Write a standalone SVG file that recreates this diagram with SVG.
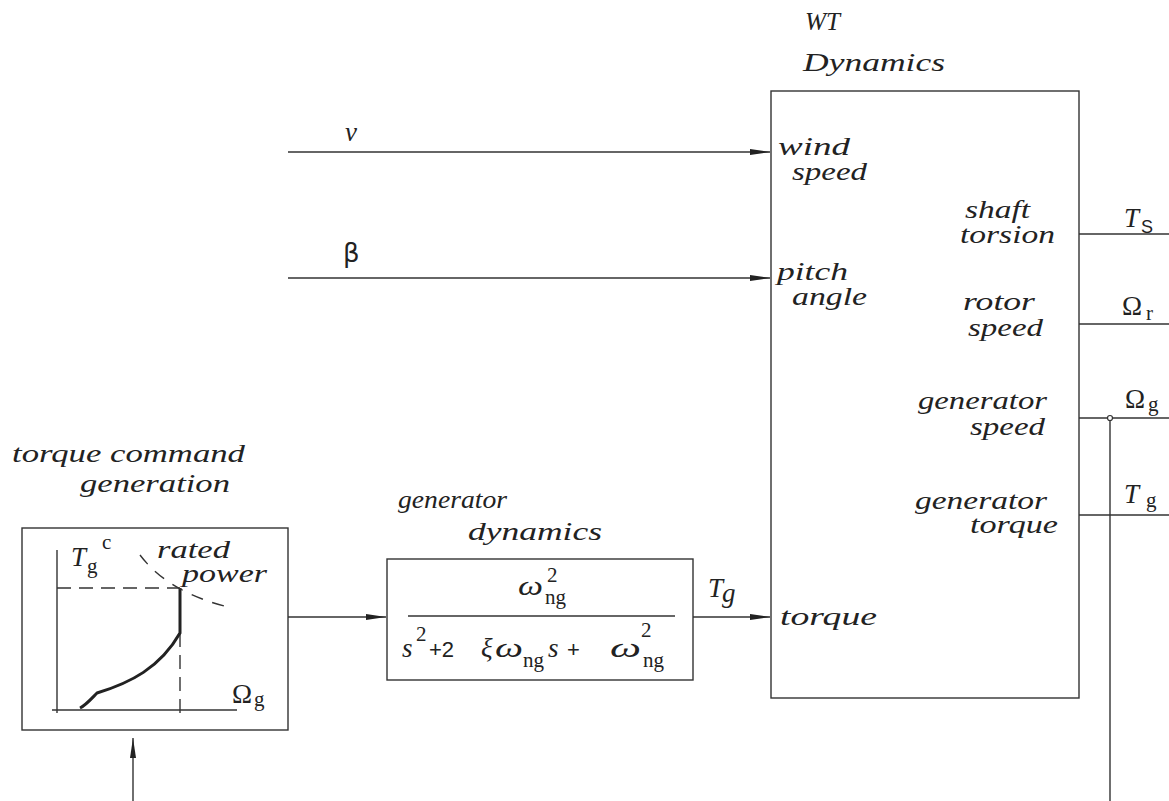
<svg xmlns="http://www.w3.org/2000/svg" width="1169" height="801" viewBox="0 0 1169 801">
<style>
.lbl{font-family:"Liberation Serif","Times New Roman",serif;font-style:italic;font-size:25px;fill:#222}
.m{font-family:"Liberation Serif","DejaVu Serif",serif;font-size:27px;fill:#222}
.mi{font-family:"Liberation Serif","DejaVu Serif",serif;font-style:italic;font-size:27px;fill:#222}
.sub{font-family:"Liberation Serif","DejaVu Serif",serif;font-size:21px;fill:#222}
.box{fill:none;stroke:#333;stroke-width:1.4}
.ln{fill:none;stroke:#333;stroke-width:1.4}
.dash{fill:none;stroke:#333;stroke-width:1.4;stroke-dasharray:14 8}
</style>
<defs>
<marker id="ah" markerUnits="userSpaceOnUse" markerWidth="22" markerHeight="8" refX="20" refY="3" orient="auto">
<path d="M0,0 L20,3 L0,6 z" fill="#222"/>
</marker>
</defs>
<rect width="1169" height="801" fill="#fff"/>

<g id="connectors">
<path class="ln" d="M288,152 H770" marker-end="url(#ah)"/>
<path class="ln" d="M288,278 H770" marker-end="url(#ah)"/>
<path class="ln" d="M288,617 H386" marker-end="url(#ah)"/>
<path class="ln" d="M693,617 H770" marker-end="url(#ah)"/>
<path class="ln" d="M133,801 V738" marker-end="url(#ah)"/>
<path class="ln" d="M1079,234 H1169"/>
<path class="ln" d="M1079,324 H1169"/>
<path class="ln" d="M1079,418 H1169"/>
<path class="ln" d="M1079,515 H1169"/>
<path class="ln" d="M1110,418 V801"/>
<circle cx="1110" cy="418" r="2.5" fill="#fff" stroke="#333" stroke-width="1.2"/>
<text class="mi" x="345" y="141" font-size="22">v</text>
<text x="343" y="262" font-family="DejaVu Sans, sans-serif" font-size="26" fill="#222">β</text>
<text class="mi" x="708" y="597" font-size="25">T</text>
<text class="mi" x="722" y="602" font-size="20">g</text>
</g>

<g id="wt-dynamics">
<rect class="box" x="771" y="91" width="308" height="607"/>
<text class="lbl" x="805" y="30" font-size="23" textLength="35" lengthAdjust="spacingAndGlyphs">WT</text>
<text class="lbl" x="803" y="71" textLength="142" lengthAdjust="spacingAndGlyphs">Dynamics</text>
<text class="lbl" x="778" y="155" textLength="72" lengthAdjust="spacingAndGlyphs">wind</text>
<text class="lbl" x="792" y="180" textLength="75" lengthAdjust="spacingAndGlyphs">speed</text>
<text class="lbl" x="777" y="280" textLength="71" lengthAdjust="spacingAndGlyphs">pitch</text>
<text class="lbl" x="792" y="305" textLength="75" lengthAdjust="spacingAndGlyphs">angle</text>
<text class="lbl" x="965" y="218" textLength="65" lengthAdjust="spacingAndGlyphs">shaft</text>
<text class="lbl" x="960" y="243" textLength="95" lengthAdjust="spacingAndGlyphs">torsion</text>
<text class="lbl" x="963" y="310" textLength="72" lengthAdjust="spacingAndGlyphs">rotor</text>
<text class="lbl" x="968" y="336" textLength="75" lengthAdjust="spacingAndGlyphs">speed</text>
<text class="lbl" x="918" y="409" textLength="129" lengthAdjust="spacingAndGlyphs">generator</text>
<text class="lbl" x="970" y="435" textLength="75" lengthAdjust="spacingAndGlyphs">speed</text>
<text class="lbl" x="915" y="509" textLength="132" lengthAdjust="spacingAndGlyphs">generator</text>
<text class="lbl" x="970" y="533" textLength="88" lengthAdjust="spacingAndGlyphs">torque</text>
<text class="lbl" x="780" y="625" textLength="97" lengthAdjust="spacingAndGlyphs">torque</text>
</g>

<g id="outputs">
<text class="mi" x="1124" y="227" font-size="26">T</text>
<text x="1141" y="233" font-family="Liberation Sans, sans-serif" font-size="18" fill="#222">S</text>
<text class="m" x="1122" y="315" font-size="29">Ω</text>
<text class="sub" x="1146" y="320">r</text>
<text class="m" x="1125" y="408" font-size="29">Ω</text>
<text class="sub" x="1148" y="411">g</text>
<text class="mi" x="1124" y="503" font-size="26">T</text>
<text class="sub" x="1146" y="507">g</text>
</g>

<g id="torque-command">
<text class="lbl" x="12" y="462" textLength="233" lengthAdjust="spacingAndGlyphs">torque command</text>
<text class="lbl" x="80" y="492" textLength="150" lengthAdjust="spacingAndGlyphs">generation</text>
<rect class="box" x="22" y="528" width="266" height="202"/>
<path class="ln" d="M57,550 V713"/>
<path class="ln" d="M52,710 H237"/>
<path class="dash" d="M57,588 H180"/>
<path class="dash" d="M180,633 V718"/>
<path fill="none" stroke="#222" stroke-width="3" d="M80,708 C86,705 92,698 97,693 C130,683 160,668 180,633 V588"/>
<path fill="none" stroke="#333" stroke-width="1.4" stroke-dasharray="12 10" d="M140,555 Q168,592 228,607"/>
<text class="mi" x="71" y="566" font-size="26">T</text>
<text class="sub" x="87" y="573" font-size="20">g</text>
<text class="sub" x="102" y="549" font-size="18">c</text>
<text class="lbl" x="157" y="558" font-size="22" textLength="73" lengthAdjust="spacingAndGlyphs">rated</text>
<text class="lbl" x="182" y="582" font-size="22" textLength="85" lengthAdjust="spacingAndGlyphs">power</text>
<text class="m" x="232" y="703" font-size="29">Ω</text>
<text class="sub" x="254" y="706">g</text>
</g>

<g id="generator-dynamics">
<text class="lbl" x="398" y="508" textLength="109" lengthAdjust="spacingAndGlyphs">generator</text>
<text class="lbl" x="468" y="540" textLength="134" lengthAdjust="spacingAndGlyphs">dynamics</text>
<rect class="box" x="387" y="559" width="306" height="121"/>
<path class="ln" d="M408,616 H675"/>
<text class="mi" x="518" y="595" font-size="28" textLength="25" lengthAdjust="spacingAndGlyphs">ω</text>
<text class="sub" x="547" y="582" font-size="19">2</text>
<text class="sub" x="545" y="604" font-size="19">ng</text>
<text class="mi" x="402" y="657" font-size="25">s</text>
<text class="sub" x="416" y="641">2</text>
<text x="429" y="657" font-family="Liberation Sans, sans-serif" font-size="22" fill="#222">+2</text>
<text class="mi" x="481" y="657" font-size="25">ξ</text>
<text class="mi" x="495" y="657" font-size="28" textLength="28" lengthAdjust="spacingAndGlyphs">ω</text>
<text class="sub" x="523" y="667">ng</text>
<text class="mi" x="548" y="657" font-size="25">s</text>
<text x="567" y="657" font-family="Liberation Sans, sans-serif" font-size="22" fill="#222">+</text>
<text class="mi" x="610" y="657" font-size="28" textLength="31" lengthAdjust="spacingAndGlyphs">ω</text>
<text class="sub" x="641" y="637">2</text>
<text class="sub" x="643" y="667">ng</text>
</g>
</svg>
